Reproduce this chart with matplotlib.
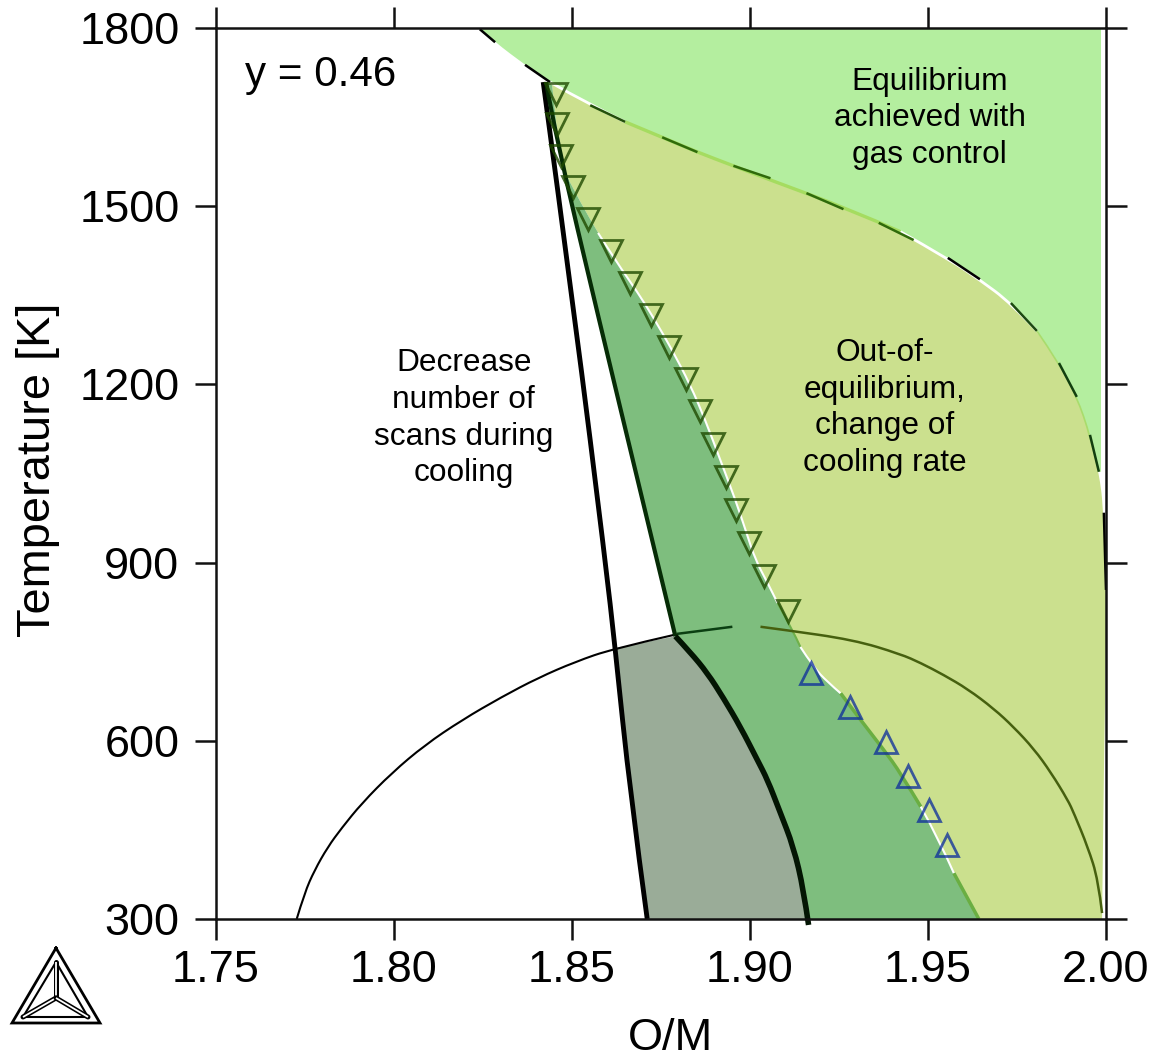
import matplotlib
matplotlib.use('Agg')
import matplotlib.pyplot as plt
from matplotlib.path import Path
from matplotlib.patches import PathPatch

plt.rcParams['font.family'] = ['Liberation Sans', 'DejaVu Sans']

# boundary between the light green and the olive area
upperOM = [1.8240, 1.8285, 1.8369, 1.8439, 1.8552, 1.8650, 1.8754, 1.8853, 1.8954, 1.9058, 1.9283,
           1.9423, 1.9564, 1.9643, 1.9733, 1.9806, 1.9868, 1.9918, 1.9955, 1.9980, 1.9994, 2.0000]
upperT = [1800, 1776, 1738, 1709, 1670, 1642, 1616, 1591, 1568, 1544, 1494,
          1457, 1409, 1377, 1337, 1290, 1236, 1179, 1115, 1053, 984, 854]

# boundary between the olive and the green area
midOM = [1.8445, 1.8456, 1.8467, 1.8524, 1.8574, 1.8628, 1.8684, 1.8729, 1.8782, 1.8833, 1.8875, 1.8917,
         1.8960, 1.8988, 1.9016, 1.9050, 1.9078, 1.9120, 1.9142, 1.9179, 1.9218, 1.9255, 1.9311, 1.9376,
         1.9423, 1.9480, 1.9528, 1.9573, 1.9643]
midT = [1704, 1645, 1573, 1507, 1455, 1404, 1356, 1313, 1258, 1199, 1140, 1073,
        1005, 955, 904, 866, 832, 787, 758, 724, 699, 680, 635, 585,
        546, 489, 438, 377, 300]

# right edge of the coloured areas
edgeOM = [2.0000, 1.9994, 1.9989]
edgeT = [770, 568, 300]
topEdgeOM = 1.9986

# thick lines
leftOM = [1.8420, 1.8510, 1.8594, 1.8622, 1.8664, 1.8712]
leftT = [1709, 1308, 904, 756, 512, 300]
innerOM = [1.8428, 1.8453, 1.8577, 1.8692, 1.8791]
innerT = [1709, 1623, 1308, 1022, 776]
lowerOM = [1.8791, 1.8833, 1.8881, 1.8926, 1.8974, 1.9021, 1.9050, 1.9083, 1.9123, 1.9151, 1.9165]
lowerT = [776, 749, 714, 672, 623, 568, 534, 483, 421, 349, 290]

# dome, with its gap near the top
domeLeftOM = [1.7728, 1.7750, 1.7778, 1.7815, 1.7854, 1.7911, 1.7995, 1.8088, 1.8192, 1.8304, 1.8406, 1.8510,
              1.8616, 1.8785]
domeLeftT = [300, 344, 382, 421, 453, 495, 546, 593, 635, 674, 706, 733, 755, 778]
domeTopOM = [1.8795, 1.8861, 1.8951]
domeTopT = [780, 785, 792]
domeRightOM = [1.9030, 1.9094, 1.9291, 1.9423, 1.9480, 1.9544, 1.9612, 1.9685, 1.9741, 1.9798, 1.9845, 1.9893,
               1.9910, 1.9949, 1.9978, 1.9989]
domeRightT = [792, 787, 770, 746, 731, 711, 687, 654, 623, 586, 547, 500, 478, 421, 366, 310]

# dash pieces along the upper boundary
dashOM = [(1.8242, 1.8285), (1.8369, 1.8439), (1.8552, 1.8650), (1.8754, 1.8853), (1.8954, 1.9058), (1.9159, 1.9263),
          (1.9362, 1.9460), (1.9556, 1.9646), (1.9733, 1.9806), (1.9868, 1.9918), (1.9955, 1.9980), (1.9994, 2.0000)]
dashT = [(1798, 1776), (1738, 1709), (1670, 1642), (1616, 1591), (1568, 1547), (1522, 1495),
         (1472, 1443), (1413, 1377), (1337, 1290), (1236, 1179), (1115, 1053), (984, 854)]
dashColors = ['black', 'black', '#23500a', '#2f6a0b', '#2f6a0b', '#2f6a0b',
              '#2f6a0b', 'black', '#1c4a10', '#123f10', '#123f10', 'black']

# measured points
downOM = [1.8456, 1.8459, 1.8470, 1.8504, 1.8546, 1.8611, 1.8664, 1.8723, 1.8774, 1.8822, 1.8861,
          1.8898, 1.8934, 1.8962, 1.8999, 1.9041, 1.9106]
downT = [1689, 1638, 1585, 1532, 1478, 1425, 1371, 1317, 1263, 1209, 1155,
         1100, 1044, 989, 933, 877, 819]
upOM = [1.9173, 1.9280, 1.9381, 1.9443, 1.9502, 1.9553]
upT = [714, 657, 598, 541, 484, 425]

xTicks = [1.75, 1.80, 1.85, 1.90, 1.95, 2.00]
yTicks = [300, 600, 900, 1200, 1500, 1800]

# logo corners
logoOuterX = [56, 12, 100, 56]
logoOuterY = [948, 1023, 1023, 948]
logoInnerX = [56, 23, 88, 56]
logoInnerY = [962, 1017, 1017, 962]
logoArmX = [(56, 56), (56, 23), (56, 88)]
logoArmY = [(998, 962), (998, 1017), (998, 1017)]


# read points become control points of quadratic curves, so the lines stay round
def curve_piece(xs, ys):
    verts = [(xs[0], ys[0])]
    codes = [Path.LINETO]
    if len(xs) == 2:
        verts.append((xs[1], ys[1]))
        codes.append(Path.LINETO)
        return verts, codes
    for i in range(1, len(xs) - 1):
        verts.append((xs[i], ys[i]))
        codes.append(Path.CURVE3)
        if i == len(xs) - 2:
            verts.append((xs[i + 1], ys[i + 1]))
        else:
            verts.append(((xs[i] + xs[i + 1]) / 2, (ys[i] + ys[i + 1]) / 2))
        codes.append(Path.CURVE3)
    return verts, codes


def make_path(pieces, closed=False):
    verts = []
    codes = []
    for xs, ys in pieces:
        v, c = curve_piece(xs, ys)
        verts += v
        codes += c
    codes[0] = Path.MOVETO
    if closed:
        verts.append(verts[0])
        codes.append(Path.CLOSEPOLY)
    return Path(verts, codes)


def draw_area(ax, pieces, color, zorder):
    ax.add_patch(PathPatch(make_path(pieces, True), facecolor=color, edgecolor='none', lw=0, zorder=zorder))


def draw_curve(ax, xs, ys, color, lw, zorder, clip=True):
    ax.add_patch(PathPatch(make_path([(xs, ys)]), facecolor='none', edgecolor=color, lw=lw, zorder=zorder,
                           capstyle='butt', clip_on=clip))


fig = plt.figure(figsize=(11.54, 10.54), dpi=100)
ax = fig.add_axes([215.5 / 1154, 135 / 1054, 890.5 / 1154, 891 / 1054])
ax.set_xlim(1.75, 2.0)
ax.set_ylim(300, 1800)

# areas
draw_area(ax, [(upperOM[:20], upperT[:20]), ([topEdgeOM, topEdgeOM], [1053, 1800])], '#b4ee9f', 1)
draw_area(ax, [(upperOM[3:], upperT[3:]), (edgeOM, edgeT), (midOM[::-1], midT[::-1])], '#cbe08e', 1)
draw_area(ax, [(midOM, midT), ([1.9643, 1.9160], [300, 300]), (lowerOM[:-1][::-1], lowerT[:-1][::-1]),
               (innerOM[::-1], innerT[::-1])], '#7ebe7e', 2)
draw_area(ax, [([1.8622, 1.8791], [756, 776]), (lowerOM[:-1], lowerT[:-1]), ([1.9160, 1.8712], [300, 300]),
               ([1.8712, 1.8664, 1.8622], [300, 512, 756])], '#9aac98', 3)

# thin strips on the area edges
draw_curve(ax, upperOM[3:6], upperT[3:6], 'white', 2, 4)
draw_curve(ax, upperOM[5:12], upperT[5:12], '#a5dc60', 2.4, 4)
draw_curve(ax, upperOM[11:16], upperT[11:16], 'white', 2, 4)
draw_curve(ax, upperOM[15:20], upperT[15:20], '#a9dc6c', 1.2, 4)
draw_curve(ax, midOM[4:17], midT[4:17], 'white', 1.5, 4)
draw_curve(ax, midOM[16:19], midT[16:19], '#6fb04a', 1.5, 4)
draw_curve(ax, midOM[18:22], midT[18:22], 'white', 1.5, 4)
draw_curve(ax, midOM[21:26], midT[21:26], '#6aae42', 2.5, 4)
draw_curve(ax, midOM[25:28], midT[25:28], 'white', 1.5, 4)
draw_curve(ax, midOM[27:], midT[27:], '#6aae42', 2.5, 4)

# dome
draw_curve(ax, domeLeftOM, domeLeftT, 'black', 1.5, 5)
draw_curve(ax, domeTopOM, domeTopT, '#0b3f12', 1.8, 5)
draw_curve(ax, domeRightOM, domeRightT, '#46600f', 1.8, 5)

# dashes on the upper boundary
for i in range(len(dashOM)):
    ax.plot(dashOM[i], dashT[i], color=dashColors[i], lw=1.8, zorder=5, solid_capstyle='butt')

# thick lines
draw_curve(ax, leftOM, leftT, 'black', 3.5, 6)
draw_curve(ax, innerOM, innerT, '#062c06', 3.0, 6)
draw_curve(ax, lowerOM, lowerT, '#031503', 4.0, 6, clip=False)

# measured points
ax.plot(downOM, downT, ls='none', marker='v', ms=15.5, mfc='none', mec='#1f4a00', mew=2.0, alpha=0.8, zorder=7)
ax.plot(upOM, upT, ls='none', marker='^', ms=15.5, mfc='none', mec='#0a2a9c', mew=2.0, alpha=0.75, zorder=7)

ax.text(1.7582, 1721, 'y = 0.46', fontsize=30.3, ha='left', va='center', zorder=8)
ax.text(1.9505, 1648, 'Equilibrium\nachieved with\ngas control', fontsize=22.8, ha='center', va='center',
        linespacing=1.29, zorder=8)
ax.text(1.8197, 1143, 'Decrease\nnumber of\nscans during\ncooling', fontsize=22.8, ha='center', va='center',
        linespacing=1.29, zorder=8)
ax.text(1.9379, 1160, 'Out-of-\nequilibrium,\nchange of\ncooling rate', fontsize=22.8, ha='center', va='center',
        linespacing=1.29, zorder=8)

ax.set_xticks(xTicks)
ax.set_xticklabels(['%.2f' % t for t in xTicks])
ax.set_yticks(yTicks)
ax.tick_params(axis='both', which='major', direction='out', length=15, width=1.8, color='#111111',
               top=True, right=True, labelsize=32.5)
ax.tick_params(axis='x', pad=7)
ax.tick_params(axis='y', pad=11)
for side in ax.spines:
    ax.spines[side].set_linewidth(1.8)
    ax.spines[side].set_color('#111111')
    ax.spines[side].set_zorder(9)

ax.set_xlabel('O/M', fontsize=32.5, ha='center', va='baseline')
ax.xaxis.set_label_coords((670 - 215.5) / 890.5, -0.1470)
ax.set_ylabel('Temperature [K]', fontsize=33.8, ha='center', va='center')
ax.yaxis.set_label_coords((38 - 215.5) / 890.5, 0.504)

# logo in the lower left corner
logo = fig.add_axes([0, 14 / 1054, 110 / 1154, 100 / 1054])
logo.set_xlim(0, 110)
logo.set_ylim(1040, 940)
logo.axis('off')
logo.plot(logoOuterX, logoOuterY, color='black', lw=2.0, solid_joinstyle='miter')
logo.plot(logoInnerX, logoInnerY, color='black', lw=1.5, solid_joinstyle='miter')
for i in range(len(logoArmX)):
    logo.plot(logoArmX[i], logoArmY[i], color='black', lw=3.6, solid_capstyle='round')
    logo.plot(logoArmX[i], logoArmY[i], color='white', lw=1.3, solid_capstyle='butt')

fig.savefig('out.png', dpi=100)
